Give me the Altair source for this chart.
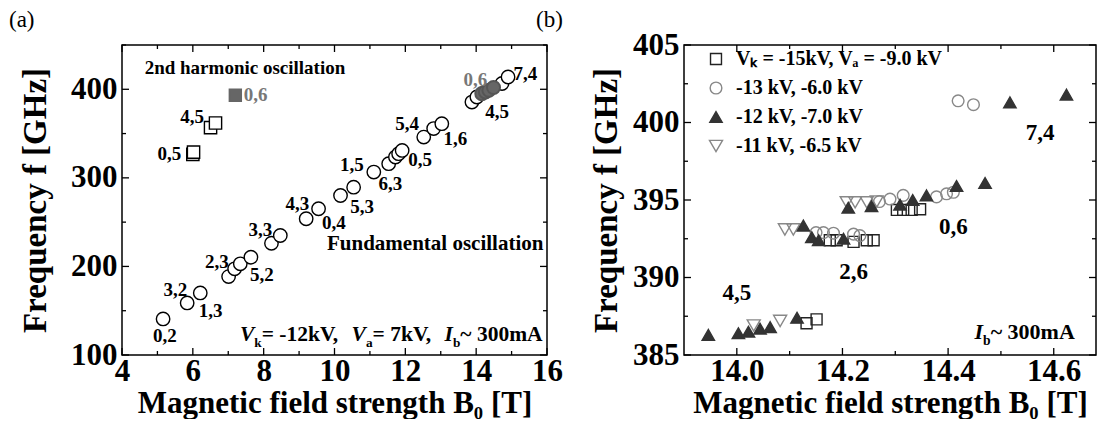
import altair as alt
import pandas as pd

FONT = "Liberation Serif"

# ---------------- Panel (a) data ----------------
fund_B = [5.16, 5.84, 6.21, 7.01, 7.18, 7.34, 7.64, 8.22, 8.47, 9.20, 9.55,
          10.17, 10.54, 11.11, 11.53, 11.72, 11.81, 11.91, 12.52, 12.80, 13.03,
          13.88, 14.02, 14.73, 14.90]
fund_f = [140.7, 158.8, 170.1, 188.5, 197.3, 202.9, 210.4, 226.2, 234.9, 253.8, 265.1,
          280.1, 289.5, 306.5, 316.0, 323.5, 327.3, 331.0, 346.0, 355.6, 361.2,
          385.6, 391.3, 406.5, 413.9]
harm_B = [6.00, 6.02, 6.50, 6.64]
harm_f = [326.5, 329.0, 356.7, 361.9]
harm_fill_B = [7.20]
harm_fill_f = [393.2]
fill_circ_B = [14.16, 14.26, 14.36, 14.49]
fill_circ_f = [395.1, 397.0, 398.9, 402.0]

modes_a = ["0,2", "3,2", "1,3", "2,3", "5,2", "3,3", "4,3", "0,4", "5,3", "1,5",
           "6,3", "0,5", "5,4", "1,6", "0,6", "4,5", "7,4", "0,6", "4,5", "0,5"]
modes_a_B = [5.21, 5.51, 6.50, 6.68, 7.95, 7.91, 8.95, 9.98, 10.78, 10.49,
             11.58, 12.42, 12.05, 13.41, 13.98, 14.59, 15.39, 7.77, 5.98, 5.34]
modes_a_f = [121.9, 173.5, 150.1, 204.7, 190.8, 240.6, 270.0, 249.5, 266.9, 314.0,
             293.4, 319.7, 361.2, 344.3, 410.2, 374.3, 417.8, 393.2, 368.7, 327.3]
modes_a_col = ["#000"] * 14 + ["#777"] + ["#000"] * 2 + ["#777"] + ["#000"] * 2

# ---------------- Panel (b) data ----------------
LEG = ["Vₖ = -15kV, Vₐ = -9.0 kV", "-13 kV,  -6.0 kV", "-12 kV,  -7.0 kV", "-11 kV,  -6.5 kV"]
sq_B = [14.132, 14.151, 14.176, 14.189, 14.221, 14.246, 14.259, 14.303, 14.315, 14.331, 14.347]
sq_f = [387.05, 387.3, 392.4, 392.4, 392.3, 392.4, 392.4, 394.36, 394.36, 394.36, 394.4]
ci_B = [14.150, 14.164, 14.183, 14.221, 14.233, 14.270, 14.290, 14.315, 14.378, 14.397, 14.410, 14.419, 14.448]
ci_f = [392.9, 392.9, 392.86, 392.8, 392.7, 394.9, 395.06, 395.3, 395.2, 395.4, 395.5, 401.4, 401.15]
tu_B = [13.946, 14.003, 14.022, 14.044, 14.063, 14.114, 14.126, 14.142, 14.155, 14.202,
        14.211, 14.255, 14.309, 14.333, 14.359, 14.416, 14.470, 14.517, 14.624]
tu_f = [386.3, 386.4, 386.5, 386.7, 386.8, 387.4, 393.35, 392.6, 392.4, 392.5,
        394.5, 394.6, 394.7, 395.0, 395.3, 395.9, 396.1, 401.3, 401.8]
td_B = [14.032, 14.082, 14.091, 14.107, 14.208, 14.224, 14.246, 14.265]
td_f = [386.9, 387.2, 393.1, 393.1, 394.85, 394.85, 394.85, 394.9]

modes_b = ["7,4", "0,6", "2,6", "4,5"]
modes_b_B = [14.574, 14.41, 14.221, 14.0]
modes_b_f = [399.33, 393.24, 390.36, 388.97]

# ---------------- helpers ----------------
A_W, A_H = 425, 310
B_W, B_H = 412, 310

TB = {' ': 250, '=': 570, '-': 333, '0': 500, '1': 500, '2': 500, '3': 500, '7': 500,
      'k': 556, 'V': 722, ',': 250, '~': 520, 'm': 833, 'A': 722, 'a': 500, 'b': 556, 'I': 389}
TBI = {'V': 667, 'I': 389}


def text_w(t, style, size):
    if style == 'i':
        return sum(TBI.get(c, 600) for c in t) * size / 1000
    if style == 's':
        return sum(TB.get(c, 500) for c in t) * size * 0.62 / 1000
    return sum(TB.get(c, 500) for c in t) * size / 1000


def enc(xs, ys, xa, ya, xf='B', yf='f'):
    return dict(x=alt.X(f'{xf}:Q', scale=xs, axis=xa), y=alt.Y(f'{yf}:Q', scale=ys, axis=ya))


def rich(pieces, x, y, xs, ys, xa, ya, size):
    layers = []
    off = 0.0
    df = pd.DataFrame({'B': [x], 'f': [y]})
    for t, st in pieces:
        fs = size * 0.62 if st == 's' else size
        layers.append(
            alt.Chart(df).mark_text(
                align='left', baseline='alphabetic', dx=off, dy=(size * 0.3 if st == 's' else 0),
                font=FONT, fontSize=fs, fontWeight='bold',
                fontStyle='italic' if st == 'i' else 'normal', color='black', text=t
            ).encode(**enc(xs, ys, xa, ya))
        )
        off += text_w(t, st, size)
    return layers


def ticks(xs, ys, xa, ya, xmaj, xmin, ymaj, ymin, W, H, Lmaj=7, Lmin=4):
    layers = []
    for vals, L in ((xmaj, Lmaj), (xmin, Lmin)):
        d = pd.DataFrame({'B': vals})
        for y0, y1 in ((H, H - L), (0, L)):
            layers.append(alt.Chart(d).mark_rule(color='black', strokeWidth=1.3).encode(
                x=alt.X('B:Q', scale=xs, axis=xa), y=alt.value(y0), y2=alt.value(y1)))
    for vals, L in ((ymaj, Lmaj), (ymin, Lmin)):
        d = pd.DataFrame({'f': vals})
        for x0, x1 in ((0, L), (W, W - L)):
            layers.append(alt.Chart(d).mark_rule(color='black', strokeWidth=1.3).encode(
                y=alt.Y('f:Q', scale=ys, axis=ya), x=alt.value(x0), x2=alt.value(x1)))
    return layers


def xaxis(vals, fmt, title):
    return alt.Axis(values=vals, format=fmt, ticks=False, domain=False, grid=False,
                    labelFont=FONT, labelFontSize=31, labelFontWeight='bold', labelColor='black',
                    labelPadding=1, title=title, titleFont=FONT, titleFontSize=31,
                    titleFontWeight='bold', titleColor='black', titlePadding=2, labelFlush=False)


def yaxis(vals, fmt, title, ext, tpad):
    return alt.Axis(values=vals, format=fmt, ticks=False, domain=False, grid=False,
                    labelFont=FONT, labelFontSize=31, labelFontWeight='bold', labelColor='black',
                    labelPadding=5, title=title, titleFont=FONT, titleFontSize=33,
                    titleFontWeight='bold', titleColor='black', titlePadding=tpad,
                    minExtent=ext, maxExtent=ext, labelFlush=False)


# ---------------- Panel (a) ----------------
xsA = alt.Scale(domain=[4, 16], nice=False, zero=False)
ysA = alt.Scale(domain=[100, 450], nice=False, zero=False)
xaA = xaxis([4, 6, 8, 10, 12, 14, 16], 'd', 'Magnetic field strength B₀ [T]')
yaA = yaxis([100, 200, 300, 400], 'd', 'Frequency f [GHz]', 62, 8)
eA = enc(xsA, ysA, xaA, yaA)

fundA = alt.Chart(pd.DataFrame({'B': fund_B, 'f': fund_f})).mark_point(
    shape='circle', size=180, filled=True, fill='white', stroke='black', strokeWidth=1.4, opacity=1
).encode(**eA)
harmA = alt.Chart(pd.DataFrame({'B': harm_B, 'f': harm_f})).mark_point(
    shape='square', size=150, filled=True, fill='white', stroke='black', strokeWidth=1.4, opacity=1
).encode(**eA)
harmFillA = alt.Chart(pd.DataFrame({'B': harm_fill_B, 'f': harm_fill_f})).mark_point(
    shape='square', size=130, filled=True, fill='#666666', stroke='#666666', opacity=1
).encode(**eA)
fillCircA = alt.Chart(pd.DataFrame({'B': fill_circ_B, 'f': fill_circ_f})).mark_point(
    shape='circle', size=170, filled=True, fill='#666666', stroke='#555555', opacity=1
).encode(**eA)

labA = alt.Chart(pd.DataFrame({'t': modes_a, 'B': modes_a_B, 'f': modes_a_f, 'c': modes_a_col})).mark_text(
    font=FONT, fontSize=19, fontWeight='bold', align='center', baseline='middle'
).encode(**eA, text='t:N', color=alt.Color('c:N', scale=None))

note1 = alt.Chart(pd.DataFrame({'t': ["2nd harmonic oscillation"], 'B': [4.64], 'f': [423.8]})).mark_text(
    font=FONT, fontSize=19, fontWeight='bold', baseline='middle', align='left', color='black'
).encode(**eA, text='t:N')
note2 = alt.Chart(pd.DataFrame({'t': ["Fundamental oscillation"], 'B': [15.9], 'f': [225.0]})).mark_text(
    font=FONT, fontSize=21, fontWeight='bold', baseline='middle', align='right', color='black'
).encode(**eA, text='t:N')

condA = rich([("V", 'i'), ("k", 's'), (" = -12kV, ", 'n'), ("V", 'i'), ("a", 's'),
              (" = 7kV, ", 'n'), ("I", 'i'), ("b", 's'), (" ~ 300mA", 'n')],
             7.33, 116.2, xsA, ysA, xaA, yaA, 21.5)

tickA = ticks(xsA, ysA, xaA, yaA, [4, 6, 8, 10, 12, 14, 16], [5, 7, 9, 11, 13, 15],
              [100, 200, 300, 400], [150, 250, 350, 450], A_W, A_H)

panelA = alt.layer(fundA, harmA, harmFillA, fillCircA, labA, note1, note2, *condA, *tickA).properties(
    width=A_W, height=A_H,
    title=alt.TitleParams("(a)", anchor='start', frame='bounds', font=FONT, fontSize=23,
                          fontWeight='normal', color='black', offset=12, dx=-10))

# ---------------- Panel (b) ----------------
xsB = alt.Scale(domain=[13.9, 14.68], nice=False, zero=False)
ysB = alt.Scale(domain=[385, 405], nice=False, zero=False)
xaB = xaxis([14.0, 14.2, 14.4, 14.6], '.1f', 'Magnetic field strength B₀ [T]')
yaB = yaxis([385, 390, 395, 400, 405], 'd', 'Frequency f [GHz]', 60, 1)
eB = enc(xsB, ysB, xaB, yaB)

rows = ([(b, f, LEG[3]) for b, f in zip(td_B, td_f)] +
        [(b, f, LEG[0]) for b, f in zip(sq_B, sq_f)] +
        [(b, f, LEG[1]) for b, f in zip(ci_B, ci_f)] +
        [(b, f, LEG[2]) for b, f in zip(tu_B, tu_f)])
dfB = pd.DataFrame(rows, columns=['B', 'f', 's'])
dfB['o'] = range(len(dfB))

leg = alt.Legend(orient='none', legendX=584, legendY=4, title=None, labelFont=FONT, labelFontSize=20,
                 labelFontWeight='bold', labelColor='black', labelLimit=500, rowPadding=9,
                 symbolStrokeWidth=1.4, labelOffset=10)

ptsB = alt.Chart(dfB).mark_point(filled=True, opacity=1, strokeWidth=1.4).encode(
    **eB,
    shape=alt.Shape('s:N', scale=alt.Scale(domain=LEG, range=['square', 'circle', 'triangle-up', 'triangle-down']), legend=leg),
    fill=alt.Fill('s:N', scale=alt.Scale(domain=LEG, range=['transparent', 'transparent', '#333333', 'transparent']), legend=leg),
    stroke=alt.Stroke('s:N', scale=alt.Scale(domain=LEG, range=['#222222', '#888888', '#333333', '#888888']), legend=leg),
    size=alt.Size('s:N', scale=alt.Scale(domain=LEG, range=[120, 170, 230, 230]), legend=leg),
    order=alt.Order('o:Q'),
)

labB = alt.Chart(pd.DataFrame({'t': modes_b, 'B': modes_b_B, 'f': modes_b_f})).mark_text(
    font=FONT, fontSize=23, fontWeight='bold', align='center', baseline='middle', color='black'
).encode(**eB, text='t:N')

condB = rich([("I", 'i'), ("b", 's'), (" ~ 300mA", 'n')], 14.45, 386.05, xsB, ysB, xaB, yaB, 22)

tickB = ticks(xsB, ysB, xaB, yaB, [14.0, 14.2, 14.4, 14.6], [14.1, 14.3, 14.5],
              [385, 390, 395, 400, 405], [387.5, 392.5, 397.5, 402.5], B_W, B_H)

panelB = alt.layer(ptsB, labB, *condB, *tickB).properties(
    width=B_W, height=B_H,
    title=alt.TitleParams("(b)", anchor='start', frame='bounds', font=FONT, fontSize=23,
                          fontWeight='normal', color='black', offset=-3, dx=-54))

chart = alt.hconcat(panelA, panelB, spacing=137, bounds='flush').properties(
    padding={'left': 0, 'top': 0, 'right': 0, 'bottom': 0}, background='white'
).configure_view(stroke='black', strokeWidth=1.5)

chart.save("out.html", embed_options={"renderer": "svg", "actions": False})
